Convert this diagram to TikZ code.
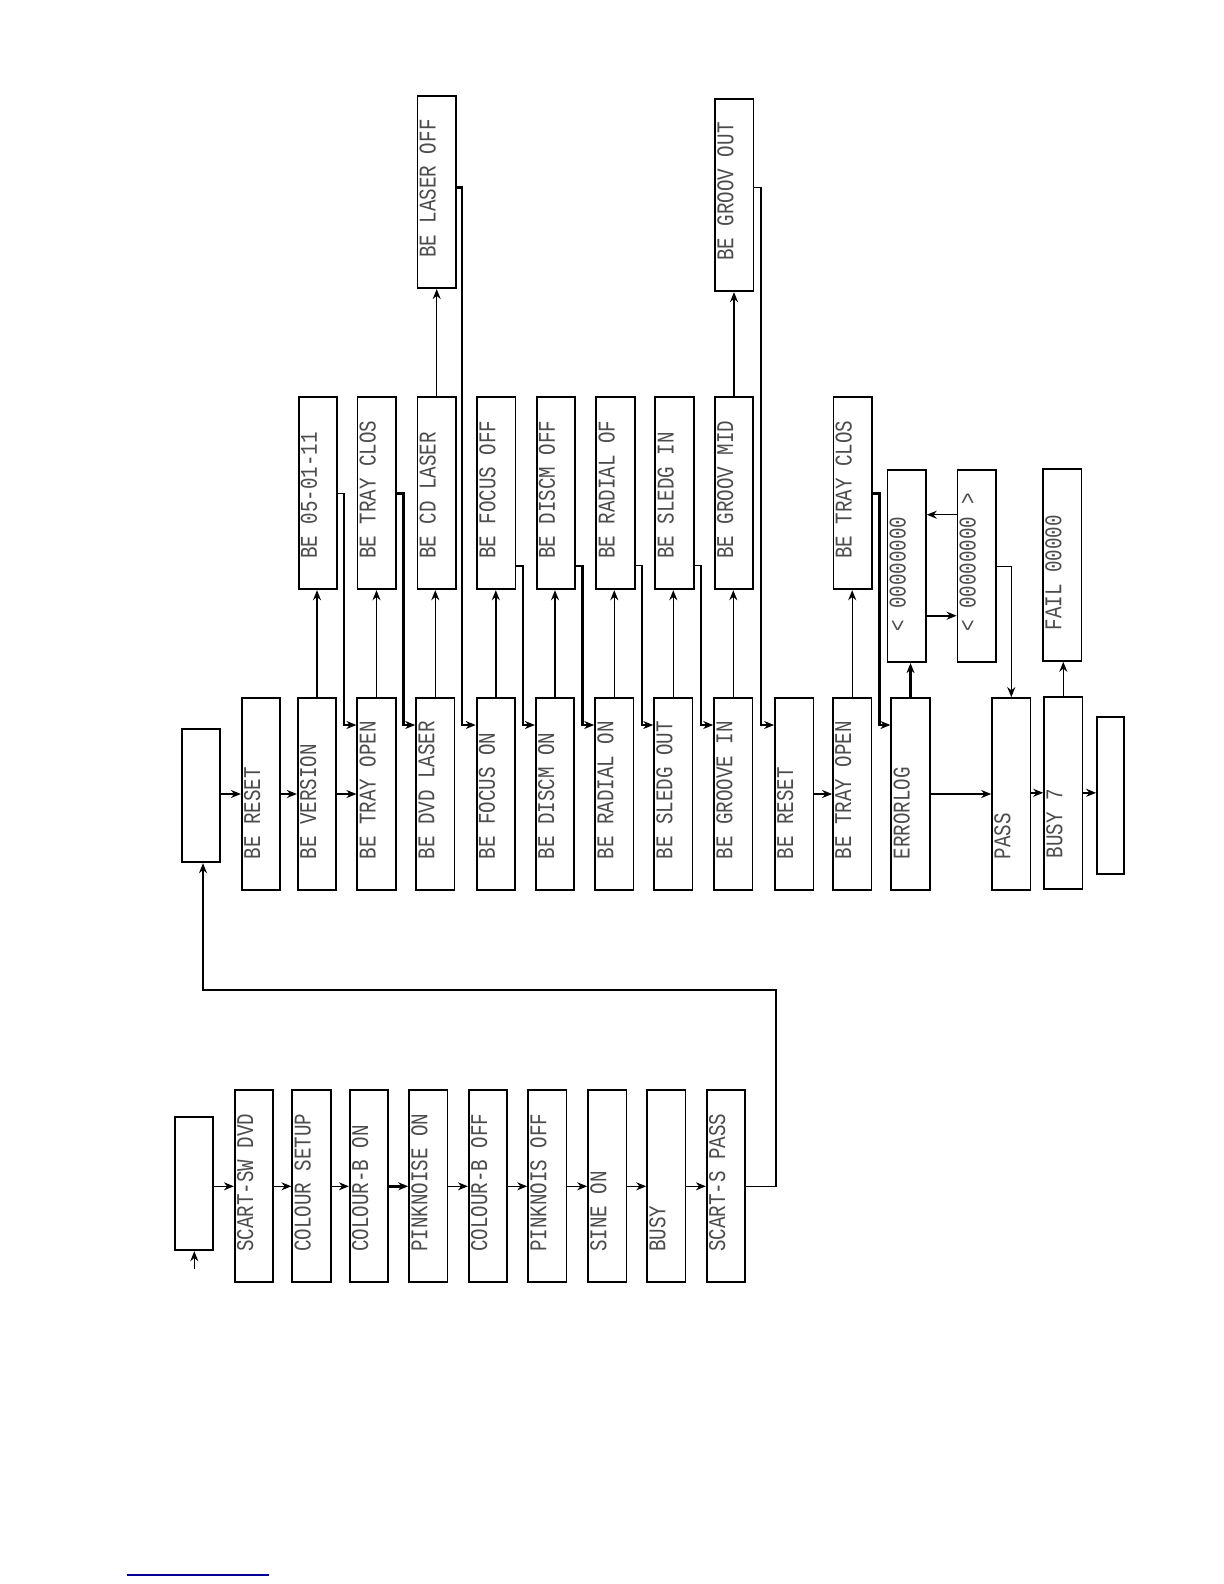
\documentclass[tikz,border=0pt]{standalone}
\usepackage{fontspec}
\newfontfamily\lcd[FakeStretch=0.8]{Liberation Mono}
\usetikzlibrary{arrows.meta,calc}
\definecolor{linkblue}{RGB}{0,0,150}
\newcommand\bxl[4]{%
  \node[bx] (#1) at (#2,#3) {};
  \node[lbl] (#1t) at ($(#1.south)+(-1,-31)$) {#4};}
\begin{document}
\begin{tikzpicture}[x=0.5pt,y=-0.5pt,
  bx/.style={draw, line width=0.9pt, minimum width=19.2pt, minimum height=96pt, inner sep=0pt},
  lbl/.style={rotate=90, anchor=base west, inner sep=0pt, font=\lcd\fontsize{12}{12}\selectfont, text=black!70},
  arr/.style={line width=0.7pt, -{Stealth[length=5pt,width=4pt]}},
  thk/.style={line width=1.2pt}]
\fill[white] (0,0) rectangle (1224,1584);
\useasboundingbox (0,0) rectangle (1224,1584);

% ---------- middle row ----------
\node[bx, minimum width=19pt, minimum height=66.5pt] (m0) at (201.3,795.8) {};
\bxl{m1}{261}{794}{BE RESET}
\bxl{m2}{317}{794}{BE VERSION}
\bxl{m3}{376.5}{794}{BE TRAY OPEN}
\bxl{m4}{435.3}{794}{BE DVD LASER}
\bxl{m5}{495.8}{794}{BE FOCUS ON}
\bxl{m6}{555}{794}{BE DISCM ON}
\bxl{m7}{614.3}{794}{BE RADIAL ON}
\bxl{m8}{673.3}{794}{BE SLEDG OUT}
\bxl{m9}{733.3}{794}{BE GROOVE IN}
\bxl{m10}{794.2}{794}{BE RESET}
\bxl{m11}{852.2}{794}{BE TRAY OPEN}
\bxl{m12}{910.5}{794}{ERRORLOG}
\bxl{m13}{1011.3}{794}{PASS}
\bxl{m14}{1063.3}{792.8}{BUSY 7}
\node[bx, minimum width=13.5pt, minimum height=78.5pt] (m15) at (1110.5,795.5) {};

% ---------- upper row ----------
\bxl{t2}{317.8}{493.3}{BE 05-01-11}
\bxl{t3}{376.7}{493.3}{BE TRAY CLOS}
\bxl{t4}{436.7}{493.3}{BE CD LASER}
\bxl{t5}{496.3}{493.3}{BE FOCUS OFF}
\bxl{t6}{555.8}{493.3}{BE DISCM OFF}
\bxl{t7}{615.5}{493.3}{BE RADIAL OF}
\bxl{t8}{674.5}{493.3}{BE SLEDG IN}
\bxl{t9}{734}{493.3}{BE GROOV MID}
\bxl{t11}{852.7}{493.3}{BE TRAY CLOS}
\bxl{e1}{906.7}{566.2}{< 00000000}
\bxl{e2}{976.7}{566.2}{< 00000000 >}
\bxl{fl}{1062.3}{564.9}{FAIL 00000}

% ---------- top row ----------
\bxl{u4}{436.7}{192.2}{BE LASER OFF}
\bxl{u9}{734.3}{195.2}{BE GROOV OUT}

% ---------- bottom row ----------
\node[bx, minimum width=19pt, minimum height=66.5pt] (b0) at (194.3,1183.8) {};
\bxl{b1}{254}{1186.3}{SCART-SW DVD}
\bxl{b2}{311.5}{1186.3}{COLOUR SETUP}
\bxl{b3}{369}{1186.3}{COLOUR-B ON}
\bxl{b4}{428.3}{1186.3}{PINKNOISE ON}
\bxl{b5}{488}{1186.3}{COLOUR-B OFF}
\bxl{b6}{547.3}{1186.3}{PINKNOIS OFF}
\bxl{b7}{607.3}{1186.3}{SINE ON}
\bxl{b8}{666.3}{1186.3}{BUSY}
\bxl{b9}{726}{1186.3}{SCART-S PASS}

% ---------- helper coordinates ----------
\coordinate (yin) at (0,725);
\coordinate (ylo) at (0,565.7);
\coordinate (yhi) at (0,187.3);
\coordinate (ya) at (0,615.7);
\coordinate (yb) at (0,514.7);
\coordinate (bin) at (194.3,1269);
\coordinate (lp1) at (776,990);
\coordinate (lp2) at (203,990);
\coordinate (bl1) at (126.7,1575);
\coordinate (bl2) at (269,1575);

% ---------- middle horizontals ----------
\draw[arr] (m0.east |- m1.west) -- (m1.west);
\draw[arr,thk] (m1.east) -- (m2.west);
\draw[arr] (m2.east) -- (m3.west);
\draw[arr] (m10.east) -- (m11.west);
\draw[arr] (m12.east) -- (m13.west);
\draw[arr] (m13.east |- m14.west) -- (m14.west);
\draw[arr] (m14.east) -- (m15.west |- m14.east);

% ---------- verticals middle -> upper ----------
\foreach \a/\b in {m2/t2,m3/t3,m4/t4,m5/t5,m6/t6,m7/t7,m8/t8,m9/t9,m11/t11,m14/fl}
  \draw[arr] (\a.north) -- (\a.north |- \b.south);
\draw[arr,thk] (m12.north) -- (m12.north |- e1.south);
\draw[arr] (t4.north) -- (t4.north |- u4.south);
\draw[arr,thk] (t9.north) -- (t9.north |- u9.south);

% ---------- returns upper -> next middle ----------
\draw[arr] (t2.east) -- ++(6,0) |- (m3.west |- yin);
\draw[arr,thk] (t3.east) -- ++(6.5,0) |- (m4.west |- yin);
\draw[arr,thk] (u4.east |- yhi) -- ++(5,0) |- (m5.west |- yin);
\draw[arr,thk] (t5.east |- ylo) -- ++(6.5,0) |- (m6.west |- yin);
\draw[arr,thk] (t6.east |- ylo) -- ++(6.5,0) |- (m7.west |- yin);
\draw[arr] (t7.east |- ylo) -- ++(6.5,0) |- (m8.west |- yin);
\draw[arr] (t8.east |- ylo) -- ++(6.5,0) |- (m9.west |- yin);
\draw[arr] (u9.east |- yhi) -- ++(6.5,0) |- (m10.west |- yin);
\draw[arr,thk] (t11.east) -- ++(6.5,0) |- (m12.west |- yin);

% ---------- error log boxes ----------
\draw[arr,thk] (e1.east |- ya) -- (e2.west |- ya);
\draw[arr] (e2.west |- yb) -- (e1.east |- yb);
\draw[arr] (e2.east) -| (m13.north);

% ---------- bottom row ----------
\draw[arr] (bin) -- (b0.south);
\draw[arr] (b0.east |- b1.west) -- (b1.west);
\draw[arr] (b1.east) -- (b2.west);
\draw[arr] (b2.east) -- (b3.west);
\draw[arr,thk] (b3.east) -- (b4.west);
\draw[arr] (b4.east) -- (b5.west);
\draw[arr] (b5.east) -- (b6.west);
\draw[arr] (b6.east) -- (b7.west);
\draw[arr] (b7.east) -- (b8.west);
\draw[arr] (b8.east) -- (b9.west);
\draw[arr] (b9.east) -| (lp1) -- (lp2) -- (lp2 |- m0.south);

% ---------- blue rule ----------
\draw[linkblue, line width=0.7pt] (bl1) -- (bl2);
\end{tikzpicture}
\end{document}
